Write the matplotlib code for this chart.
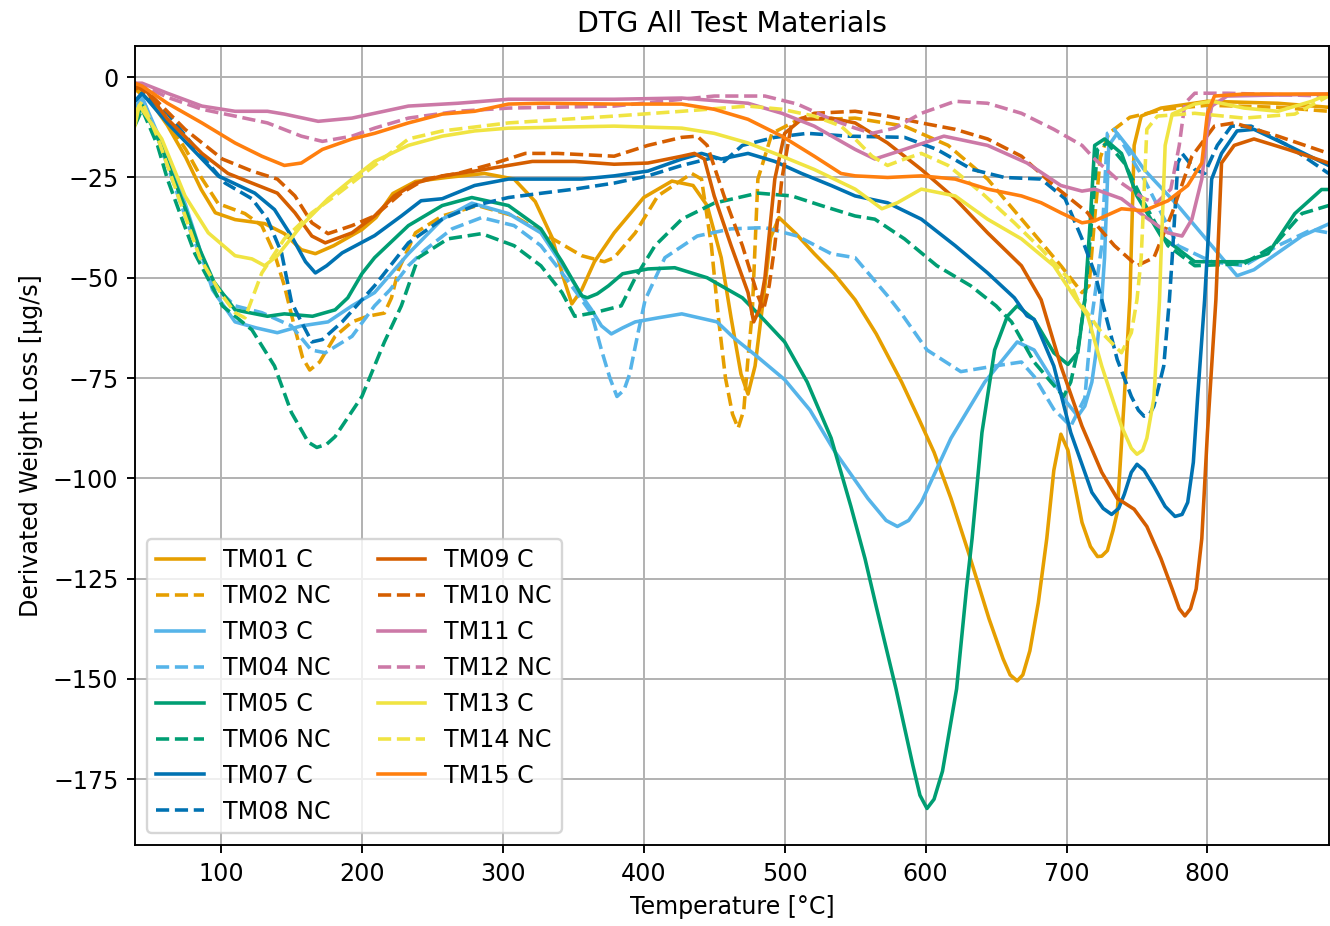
import matplotlib
matplotlib.use("Agg")
import matplotlib.pyplot as plt

# temperature [°C] / derivated weight loss [µg/s]
T01 = [39, 50, 62, 75, 86, 96, 110, 131, 145, 157, 167, 180, 200, 210, 222, 238, 260, 287, 308, 323, 335, 343, 349, 356, 365, 379, 400, 420, 435, 445, 455, 462, 469, 474, 479, 485, 490, 496, 508, 521, 535, 550, 565, 583, 595, 606, 618, 630, 645, 655, 660, 665, 669, 674, 680, 686, 691, 696, 701, 706, 711, 717, 722, 725, 729, 733, 736, 741, 745, 748, 753, 767, 800, 850, 886]
V01 = [-3, -6, -12, -20, -28, -33.8, -35.5, -36.5, -39, -43, -44, -42, -38, -35, -29, -26, -25, -24, -25.4, -31, -40, -50, -56.5, -53, -46, -38.8, -30, -25.9, -27, -32, -45, -60, -74, -79, -72, -55, -40, -35, -39, -44, -49, -55.5, -64, -76, -85, -93.5, -105, -118, -135, -145, -149, -150.5, -149, -143, -131, -115, -98, -89, -93, -102, -111, -117, -119.5, -119.4, -118, -113, -108.5, -80, -55, -17, -9.7, -7.7, -6, -6.5, -7.5]

T02 = [39, 50, 62, 75, 86, 98, 117, 129, 138, 145, 152, 158, 163, 170, 181, 193, 204, 216, 221, 226, 238, 257, 282, 308, 332, 356, 372, 379, 394, 410, 434, 441, 448, 453, 458, 463, 467, 471, 474, 477, 481, 491, 512, 530, 550, 585, 616, 644, 672, 696, 711, 716, 720, 724, 730, 745, 770, 800, 850, 886]
V02 = [-2, -5, -11, -18, -25, -31.5, -34, -37, -44, -52, -62, -70, -73, -71, -64.6, -61, -59.6, -58.8, -55, -48, -38.8, -34.6, -32, -34.6, -39.6, -44.5, -46, -45, -38.8, -29.6, -24, -25.4, -42, -60, -75, -84, -87.5, -83, -70, -58.7, -25.4, -14, -10.2, -10.5, -10.2, -12.2, -17, -25.4, -37, -47, -53.7, -52, -35, -20, -14, -10, -8, -7, -7.5, -8.5]

T03 = [39, 44, 55, 62, 75, 86, 94, 110, 125, 140, 157, 176, 193, 209, 233, 257, 278, 304, 327, 346, 358, 363, 370, 377, 385, 394, 410, 427, 452, 464, 480, 500, 518, 535, 559, 572, 580, 588, 597, 618, 642, 665, 677, 691, 700, 708, 713, 718, 722, 725, 727, 730, 736, 745, 755, 779, 803, 821, 833, 845, 867, 886]
V03 = [-8, -5, -14, -19.7, -32, -44, -53, -61, -62.5, -63.7, -62, -61, -57, -53.7, -44, -35.4, -31.4, -34, -38.8, -48.8, -55.5, -58, -62, -64, -62.5, -61, -60, -59, -61, -65, -69.5, -75.4, -83, -93, -105, -110.5, -112, -110.5, -106, -90, -76, -66, -68, -76, -81, -84.5, -82, -76, -66, -55.5, -45, -17, -14, -18, -23, -32, -42, -49.5, -48, -45, -39.6, -36.6]

T04 = [39, 44, 55, 65, 80, 95, 110, 129, 150, 164, 174, 193, 209, 220, 233, 245, 264, 285, 308, 327, 342, 355, 363, 370, 376, 381, 386, 390, 396, 401, 415, 438, 462, 486, 509, 533, 550, 573, 583, 601, 625, 649, 668, 677, 691, 703, 713, 718, 725, 729, 734, 755, 779, 803, 826, 850, 874, 886]
V04 = [-8, -5, -15, -25, -40, -52, -57, -58.7, -62, -68, -68.7, -64.6, -57, -53, -47, -43, -37.8, -35, -37, -42, -48.8, -55, -59, -68, -75, -79.6, -78, -74, -63.7, -55.5, -45, -39.6, -37.8, -37.5, -39.6, -44, -45, -54.5, -59, -68, -73.4, -72, -71, -74.6, -82.8, -87, -80, -59.7, -42, -14, -13, -25.4, -42, -46, -47, -42, -38, -38.8]

T05 = [39, 44, 55, 65, 75, 85, 95, 110, 133, 145, 165, 181, 190, 200, 209, 233, 257, 278, 304, 327, 342, 356, 360, 367, 375, 385, 403, 422, 445, 470, 484, 500, 516, 533, 547, 557, 565, 579, 591, 596, 601, 606, 612, 622, 629, 633, 640, 649, 658, 665, 677, 691, 701, 708, 713, 717, 720, 727, 739, 750, 767, 791, 826, 843, 862, 881, 886]
V05 = [-11, -7, -15, -24, -33, -43, -51, -58, -59.6, -59, -59.6, -58, -55, -49, -45, -37, -32, -30, -32, -37.8, -46, -54.5, -55, -54, -52, -49, -47.8, -47.5, -50, -55, -60, -66, -76, -90, -107, -120, -132, -152.5, -171.6, -179, -182.3, -180, -173, -152.5, -127.6, -115, -88.6, -68, -59.6, -57, -60.4, -68.7, -71.6, -68.7, -55.5, -35, -17, -15.4, -19, -29.6, -39.6, -46, -46, -44, -34, -28, -28]

T06 = [39, 44, 55, 62, 72, 81.5, 92, 101, 122, 138, 150, 162, 168, 175, 181, 200, 216, 228, 240, 261, 285, 308, 327, 342, 351, 365, 384, 394, 408, 427, 450, 481, 505, 526, 550, 564, 585, 608, 632, 650, 661, 677, 689, 698, 703, 708, 713, 718, 722, 729, 741, 755, 772, 791, 826, 847, 867, 886]
V06 = [-12, -8, -17, -25.4, -35, -44, -51, -57, -63, -72, -83.6, -91, -92.3, -91.5, -89.6, -79.6, -66, -57, -45, -40.3, -39, -42, -47, -53.7, -59.6, -58.7, -57, -50, -42, -35.4, -31.4, -28.9, -29.6, -32, -34.6, -35.4, -40.3, -47, -52, -57, -61, -71, -76, -79.6, -76, -68, -55.5, -35, -18, -16.4, -21.4, -31.3, -42, -47, -46.5, -42, -34, -32]

T07 = [39, 44, 62, 80, 98, 124, 138, 150, 160, 167, 175, 186, 209, 228, 242, 257, 280, 304, 332, 356, 379, 403, 427, 441, 455, 474, 493, 512, 533, 550, 573, 597, 621, 644, 663, 672, 677, 691, 703, 718, 726, 732, 737, 741, 746, 750, 755, 762, 770, 777, 782, 786, 790, 793, 798, 803, 810, 821, 833, 857, 886]
V07 = [-6, -4, -11.4, -18, -24.6, -28.9, -33, -39.6, -46, -48.8, -47, -43.8, -39.5, -34.6, -30.8, -30.3, -27, -25.4, -25.4, -25.4, -24.6, -23.4, -20.4, -19, -20.4, -19, -21, -24, -27, -29.6, -31.3, -35.4, -42, -48.8, -55, -59.5, -60.4, -72, -88.6, -103.5, -107.5, -109, -107.5, -104, -98.5, -96.5, -98, -102, -107, -109.5, -109, -106, -96, -80, -55.5, -25.4, -19, -13.4, -13, -17, -22]

T08 = [39, 44, 62, 86.5, 103, 122, 133, 143, 150, 155, 164.5, 172, 186, 200, 209, 233, 257, 280, 304, 328, 351, 379, 403, 427, 450, 457, 470, 493, 516, 545, 585, 608, 633, 656, 682, 699, 711, 720, 725, 736, 746, 751, 755, 759, 762, 769, 773, 775, 779, 782, 791, 798, 807, 817, 831, 857, 886]
V08 = [-6, -4, -9, -19.7, -26.4, -30.3, -35.4, -43.8, -56, -59.6, -66, -65.4, -61, -55.5, -52, -41.3, -35.4, -32, -30, -28.9, -27.9, -26.4, -24.6, -22, -20, -21, -17, -15, -14, -14.7, -15, -18, -23, -25, -25.4, -30.3, -40.3, -48.8, -55.5, -70.4, -79.6, -83, -84.5, -84, -82, -72, -55.5, -45, -21.4, -19, -23, -24, -17, -12.2, -12.2, -17, -24]

T09 = [39, 44, 62, 86.5, 105, 122, 140, 152.5, 164.5, 174, 193, 209, 223, 238, 257, 280, 304, 321, 351, 379, 403, 427, 436, 443, 450, 462, 474, 478, 482, 486, 493, 500, 512, 533, 550, 573, 597, 621, 644, 668, 682, 696, 711, 725, 736, 748, 757, 767, 775, 780, 784, 788, 792, 796, 800, 806, 810, 819, 833, 857, 886]
V09 = [-3, -2, -10.4, -19, -24, -26.4, -28.9, -33.8, -39.6, -41.3, -38.8, -34.6, -29.6, -26.4, -24.6, -23.4, -22, -21, -21, -21.7, -21.4, -19.7, -19, -20.4, -29.6, -42, -53.7, -61, -58, -50, -25.4, -14, -10.5, -10.2, -11.4, -16.4, -23, -30.3, -38.8, -47, -55.5, -72, -87, -98.5, -105, -107.7, -112, -120, -127.6, -132.5, -134.3, -132.5, -127.6, -115, -88.6, -55.5, -21.4, -17, -15.4, -18, -21.4]

T10 = [39, 51, 74.5, 101, 122, 140, 152.5, 164.5, 176, 193, 209, 228, 245, 268, 292, 316, 339, 379, 403, 427, 438, 445, 457, 470, 481, 485, 489, 493, 498, 505, 521, 550, 573, 597, 621, 644, 668, 691, 715, 720, 734, 750, 762, 775, 789, 805, 819, 850, 886]
V10 = [-2, -4.7, -13, -20.4, -23.4, -25.4, -29.6, -36.3, -39, -37, -34.6, -28.9, -25.4, -24, -21.7, -19, -19, -19.7, -17, -15, -14.7, -17, -29.6, -42, -54.5, -58, -52, -42, -25.4, -11.4, -9, -8.5, -9.7, -11.4, -13, -15.4, -19.7, -27, -33.8, -36.3, -42, -47, -45, -33.8, -19.7, -12.2, -11.4, -14.7, -19]

T11 = [39, 44, 62, 86.5, 110, 133, 145, 169, 193, 209, 233, 268, 304, 379, 427, 474, 498, 521, 550, 564, 585, 613, 644, 672, 696, 711, 720, 739, 755, 772, 782, 789, 796, 800, 803, 814, 886]
V11 = [-1.5, -1.5, -4, -7.2, -8.5, -8.5, -9.2, -11, -10.2, -9, -7.2, -6.5, -5.5, -5.5, -5.2, -6.5, -9, -12.2, -18, -20.4, -18, -14.7, -17, -21.4, -27, -28.4, -27.9, -30.3, -34.6, -38.8, -39.6, -35.4, -25.4, -13, -7.2, -4.7, -4.2]

T12 = [39, 44, 62, 86.5, 110, 133, 157, 172, 193, 209, 233, 268, 304, 379, 450, 486, 509, 533, 550, 562, 578, 597, 621, 644, 668, 691, 711, 720, 739, 755, 764, 774, 780, 784, 791, 814, 886]
V12 = [-1.5, -2, -5, -8, -9.7, -11.4, -14.7, -16, -14.7, -12.7, -10.2, -8.5, -7.7, -7.2, -4.7, -4.7, -6.7, -10.5, -12.7, -14, -12.7, -9, -6, -6.5, -9, -13, -17, -20.4, -26.4, -30.3, -31.3, -27.9, -17, -6.5, -4, -4, -4.7]

T13 = [39, 42, 58, 74.5, 91, 110, 122, 131, 140, 157, 176, 193, 209, 233, 257, 280, 304, 379, 427, 450, 474, 498, 521, 550, 569, 580, 597, 621, 644, 668, 691, 706, 715, 725, 739, 746, 750, 754, 757, 762, 766, 767, 770, 775, 791, 803, 826, 850, 874, 886]
V13 = [-12, -7, -15.4, -29.6, -38.8, -44.5, -45.3, -47, -44.5, -37, -30.3, -25.4, -21, -17, -14.7, -13.4, -12.7, -12.2, -12.7, -14, -16.4, -19.7, -23, -27.9, -32.8, -31.3, -27.9, -29.6, -35.4, -40.3, -47, -55, -59.5, -72, -87, -92.5, -94, -93, -90, -80, -55.5, -45, -17, -9.2, -6.7, -6, -7.7, -8.5, -6, -4.2]

T14 = [39, 44, 55, 70, 85, 100, 110, 117, 129, 145, 164.5, 181, 209, 233, 257, 304, 379, 427, 474, 498, 521, 540, 550, 562, 573, 585, 597, 616, 640, 663, 682, 701, 708, 725, 739, 746, 750, 753, 757, 764.5, 791, 826, 862, 886]
V14 = [-9, -6, -15, -30, -45, -54, -58.7, -60, -48.8, -40.3, -33.8, -29.6, -22, -15.4, -13.4, -11.4, -9.7, -8.5, -7.2, -8, -9.7, -12.2, -15.4, -19.7, -22, -20.4, -19, -22, -28.9, -36.3, -42.8, -50, -55.5, -63.7, -68.7, -63.7, -55.5, -45, -13, -9.7, -9, -10.2, -9.2, -4.7]

T15 = [39, 44, 62, 86.5, 110, 129, 145, 157, 172, 193, 209, 233, 257, 280, 304, 328, 379, 427, 450, 474, 498, 521, 540, 550, 573, 597, 621, 644, 668, 682, 696, 711, 720, 739, 755, 772, 786, 796, 800, 805, 826, 886]
V15 = [-1.5, -2.2, -6.5, -11.4, -16.4, -19.7, -22, -21.4, -18, -15.4, -14, -11.4, -9.2, -8.5, -6.7, -6.5, -6.7, -6.7, -8, -10.5, -14.7, -19.7, -24, -24.6, -25, -24.6, -25.4, -27.9, -29.6, -31.3, -33.8, -36.3, -35.8, -32.8, -33.3, -30.8, -27, -21.4, -9, -4.7, -4.2, -4.2]

LABELS = ["TM01 C", "TM02 NC", "TM03 C", "TM04 NC", "TM05 C", "TM06 NC", "TM07 C", "TM08 NC",
          "TM09 C", "TM10 NC", "TM11 C", "TM12 NC", "TM13 C", "TM14 NC", "TM15 C"]
TEMPS = [T01, T02, T03, T04, T05, T06, T07, T08, T09, T10, T11, T12, T13, T14, T15]
VALUES = [V01, V02, V03, V04, V05, V06, V07, V08, V09, V10, V11, V12, V13, V14, V15]

COLORS = ["#E69F00", "#E69F00", "#56B4E9", "#56B4E9", "#009E73", "#009E73", "#0072B2", "#0072B2",
          "#D55E00", "#D55E00", "#CC79A7", "#CC79A7", "#F0E442", "#F0E442", "#FF7F0E"]

DPI = 171
fig, ax = plt.subplots(figsize=(1330 / DPI, 926 / DPI), dpi=DPI)
fig.subplots_adjust(left=0.1015, right=0.9995, bottom=0.0875, top=0.950)

for t, v, lab, col in zip(TEMPS, VALUES, LABELS, COLORS):
    ls = "--" if lab.endswith("NC") else "-"
    ax.plot(t, v, ls, color=col, lw=1.5, label=lab)

ax.set_xlim(39, 886.5)
ax.set_ylim(-191.4, 7.7)
ax.set_title("DTG All Test Materials", fontsize=12)
ax.set_xlabel("Temperature [°C]")
ax.set_ylabel("Derivated Weight Loss [µg/s]")
ax.grid(True)
ax.legend(loc="lower left", ncol=2, fontsize=10)

fig.savefig("out.png", dpi=DPI)
